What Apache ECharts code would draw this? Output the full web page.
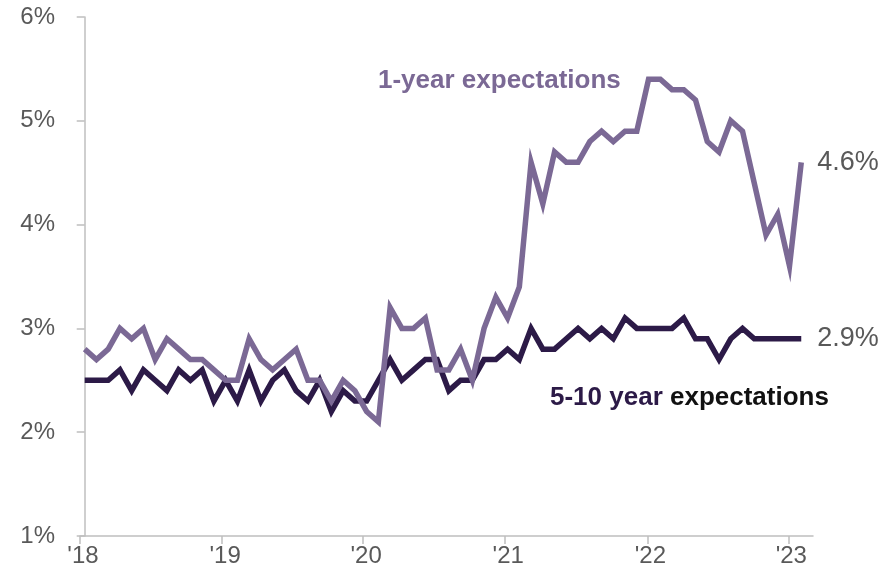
<!DOCTYPE html>
<html>
<head>
<meta charset="utf-8">
<script src="https://cdn.jsdelivr.net/npm/echarts@6/dist/echarts.min.js"></script>
<style>
  html, body { margin: 0; padding: 0; background: #ffffff; }
  #chart { width: 894px; height: 581px; }
</style>
</head>
<body>
<div id="chart"></div>
<script>
// Monthly survey readings, Mar 2018 – Apr 2023 (percent)
const oneYear = [
  2.8, 2.7, 2.8, 3.0, 2.9, 3.0, 2.7, 2.9, 2.8, 2.7, 2.7, 2.6,
  2.5, 2.5, 2.9, 2.7, 2.6, 2.7, 2.8, 2.5, 2.5, 2.3, 2.5, 2.4,
  2.2, 2.1, 3.2, 3.0, 3.0, 3.1, 2.6, 2.6, 2.8, 2.5, 3.0, 3.3,
  3.1, 3.4, 4.6, 4.2, 4.7, 4.6, 4.6, 4.8, 4.9, 4.8, 4.9, 4.9,
  5.4, 5.4, 5.3, 5.3, 5.2, 4.8, 4.7, 5.0, 4.9, 4.4, 3.9, 4.1, 3.6, 4.6
];
const fiveTenYear = [
  2.5, 2.5, 2.5, 2.6, 2.4, 2.6, 2.5, 2.4, 2.6, 2.5, 2.6, 2.3,
  2.5, 2.3, 2.6, 2.3, 2.5, 2.6, 2.4, 2.3, 2.5, 2.2, 2.4, 2.3,
  2.3, 2.5, 2.7, 2.5, 2.6, 2.7, 2.7, 2.4, 2.5, 2.5, 2.7, 2.7,
  2.8, 2.7, 3.0, 2.8, 2.8, 2.9, 3.0, 2.9, 3.0, 2.9, 3.1, 3.0,
  3.0, 3.0, 3.0, 3.1, 2.9, 2.9, 2.7, 2.9, 3.0, 2.9, 2.9, 2.9, 2.9, 2.9
];
// Year tick labels and their positions on the month-index axis
const yearLabels = ["'18", "'19", "'20", "'21", "'22", "'23"];
const yearTicks = [-0.4, 11.7, 23.7, 35.8, 47.9, 59.9];
const yTicks = [1, 2, 3, 4, 5, 6];

const LIGHT = '#7b6995';
const DARK = '#2c1a47';
const GREY_TEXT = '#595959';
const AXIS = '#bfbfbf';
const FONT = '"Liberation Sans", Arial, sans-serif';

const toPairs = arr => arr.map((v, i) => [i, v]);

const chart = echarts.init(document.getElementById('chart'), null, { renderer: 'canvas' });
chart.setOption({
  animation: false,
  backgroundColor: '#ffffff',
  grid: { left: 80, right: 81, top: 17, bottom: 45, containLabel: false },
  xAxis: {
    type: 'value',
    min: -0.4,
    max: 62,
    splitLine: { show: false },
    axisLine: { show: true, lineStyle: { color: AXIS, width: 1.5 } },
    axisTick: { show: true, length: 8, customValues: yearTicks, lineStyle: { color: AXIS, width: 1.5 } },
    axisLabel: {
      show: true,
      customValues: yearTicks,
      formatter: v => {
        const k = yearTicks.findIndex(t => Math.abs(t - v) < 1e-6);
        return k >= 0 ? yearLabels[k] : '';
      },
      color: GREY_TEXT,
      fontFamily: FONT,
      fontSize: 24,
      margin: 8,
      padding: [0, 0, 0, 6]
    }
  },
  yAxis: {
    type: 'value',
    min: yTicks[0],
    max: yTicks[yTicks.length - 1],
    interval: 1,
    splitLine: { show: false },
    axisLine: { show: true, lineStyle: { color: AXIS, width: 1.5 } },
    axisTick: { show: true, length: 8, lineStyle: { color: AXIS, width: 1.5 } },
    axisLabel: {
      color: GREY_TEXT,
      fontFamily: FONT,
      fontSize: 24,
      margin: 25,
      formatter: v => v + '%'
    }
  },
  series: [
    {
      name: '5-10 year expectations',
      type: 'line',
      data: toPairs(fiveTenYear),
      showSymbol: false,
      symbol: 'none',
      lineStyle: { color: DARK, width: 5.5, join: 'miter' },
      z: 2,
      endLabel: {
        show: true,
        formatter: p => p.value[1].toFixed(1) + '%',
        color: GREY_TEXT,
        fontFamily: FONT,
        fontSize: 27,
        distance: 16
      }
    },
    {
      name: '1-year expectations',
      type: 'line',
      data: toPairs(oneYear),
      showSymbol: false,
      symbol: 'none',
      lineStyle: { color: LIGHT, width: 5.5, join: 'miter' },
      z: 3,
      endLabel: {
        show: true,
        formatter: p => p.value[1].toFixed(1) + '%',
        color: GREY_TEXT,
        fontFamily: FONT,
        fontSize: 27,
        distance: 16
      }
    }
  ],
  graphic: [
    {
      type: 'text',
      left: 378,
      top: 68,
      style: {
        text: '1-year expectations',
        fill: LIGHT,
        font: 'bold 26px "Liberation Sans", Arial, sans-serif'
      }
    },
    {
      type: 'text',
      left: 550,
      top: 385,
      style: {
        text: '{a|5-10 year }{b|expectations}',
        rich: {
          a: { fill: DARK, font: 'bold 26px "Liberation Sans", Arial, sans-serif' },
          b: { fill: '#111111', font: 'bold 26px "Liberation Sans", Arial, sans-serif' }
        }
      }
    }
  ]
});
</script>
</body>
</html>
